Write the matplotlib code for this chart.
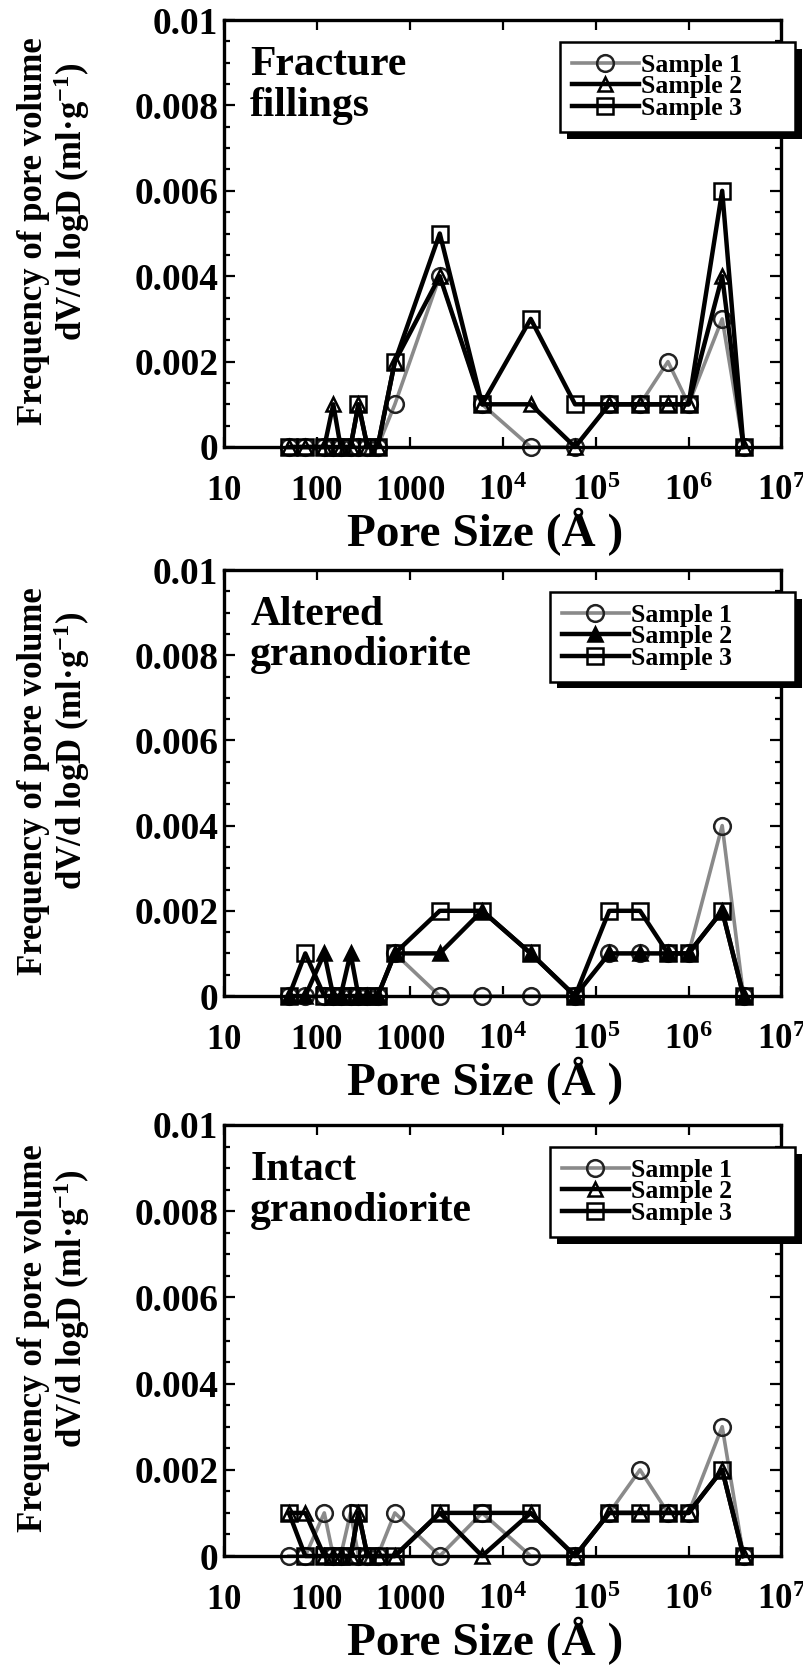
import matplotlib
matplotlib.use("Agg")
import matplotlib.pyplot as plt
from matplotlib import patheffects
from matplotlib.ticker import FixedLocator, FixedFormatter, MultipleLocator, NullLocator
from matplotlib.lines import Line2D

plt.rcParams["font.family"] = ["Liberation Serif", "DejaVu Serif"]
plt.rcParams["font.weight"] = "bold"
plt.rcParams["axes.labelweight"] = "bold"
plt.rcParams["mathtext.fontset"] = "custom"
plt.rcParams["mathtext.rm"] = "Liberation Serif:bold"
plt.rcParams["mathtext.it"] = "Liberation Serif:bold"
plt.rcParams["mathtext.bf"] = "Liberation Serif:bold"
plt.rcParams["mathtext.default"] = "bf"

# DATA (pore size in Angstrom, dV/dlogD in ml/g)
pore_size = [50, 75, 120, 150, 180, 230, 280, 350, 450, 690,
             2100, 6000, 20000, 60000, 140000, 300000, 600000, 1000000, 2300000, 3900000]

fracture_s1 = [0, 0, 0, 0, 0, 0, 0, 0, 0, 0.001,
               0.004, 0.001, 0, 0, 0.001, 0.001, 0.002, 0.001, 0.003, 0]
fracture_s2 = [0, 0, 0, 0.001, 0, 0, 0.001, 0, 0, 0.002,
               0.004, 0.001, 0.001, 0, 0.001, 0.001, 0.001, 0.001, 0.004, 0]
fracture_s3 = [0, 0, 0, 0, 0, 0, 0.001, 0, 0, 0.002,
               0.005, 0.001, 0.003, 0.001, 0.001, 0.001, 0.001, 0.001, 0.006, 0]

altered_s1 = [0, 0, 0, 0, 0, 0, 0, 0, 0, 0.001,
              0, 0, 0, 0, 0.001, 0.001, 0.001, 0.001, 0.004, 0]
altered_s2 = [0, 0, 0.001, 0, 0, 0.001, 0, 0, 0, 0.001,
              0.001, 0.002, 0.001, 0, 0.001, 0.001, 0.001, 0.001, 0.002, 0]
altered_s3 = [0, 0.001, 0, 0, 0, 0, 0, 0, 0, 0.001,
              0.002, 0.002, 0.001, 0, 0.002, 0.002, 0.001, 0.001, 0.002, 0]

intact_s1 = [0, 0, 0.001, 0, 0, 0.001, 0, 0, 0, 0.001,
             0, 0.001, 0, 0, 0.001, 0.002, 0.001, 0.001, 0.003, 0]
intact_s2 = [0.001, 0.001, 0, 0, 0, 0, 0.001, 0, 0, 0,
             0.001, 0, 0.001, 0, 0.001, 0.001, 0.001, 0.001, 0.002, 0]
intact_s3 = [0.001, 0, 0, 0, 0, 0, 0.001, 0, 0, 0,
             0.001, 0.001, 0.001, 0, 0.001, 0.001, 0.001, 0.001, 0.002, 0]

panel_labels = ["Fracture\nfillings", "Altered\ngranodiorite", "Intact\ngranodiorite"]
sample_names = ["Sample 1", "Sample 2", "Sample 3"]
x_ticks = [10, 100, 1000, 1e4, 1e5, 1e6, 1e7]
x_ticklabels = ["$10$", "$100$", "$1000$", "$10^{4}$", "$10^{5}$", "$10^{6}$", "$10^{7}$"]
y_ticks = [0, 0.002, 0.004, 0.006, 0.008, 0.01]
y_ticklabels = ["0", "0.002", "0.004", "0.006", "0.008", "0.01"]

W, H = 804, 1666
fig = plt.figure(figsize=(W / 100, H / 100), dpi=100)

# axes boxes in pixels: (top, bottom), legend left edge in axes fraction
boxes = [(20, 447), (570, 996), (1125, 1556)]
legend_x = [0.603, 0.585, 0.585]
left_px, right_px = 224, 781.5

series = [
    (fracture_s1, fracture_s2, fracture_s3),
    (altered_s1, altered_s2, altered_s3),
    (intact_s1, intact_s2, intact_s3),
]

for i, ((top, bot), (s1, s2, s3)) in enumerate(zip(boxes, series)):
    ax = fig.add_axes([left_px / W, 1 - bot / H, (right_px - left_px) / W, (bot - top) / H])
    tri_face = "k" if i == 1 else "none"
    styles = [
        dict(color="#8a8a8a", lw=2.6, marker="o", ms=12, mfc="none", mec="#222222", mew=1.8),
        dict(color="k", lw=3.2, marker="^", ms=10, mfc=tri_face, mec="k", mew=1.8),
        dict(color="k", lw=3.2, marker="s", ms=11, mfc="none", mec="k", mew=1.8),
    ]
    handles = []
    for ys, st, name in zip((s1, s2, s3), styles, sample_names):
        ax.plot(pore_size, ys, clip_on=False, **st)
        handles.append(Line2D([], [], label=name, **st))

    ax.set_xscale("log")
    ax.set_xlim(10, 1e7)
    ax.set_ylim(0, 0.01)
    ax.xaxis.set_major_locator(FixedLocator(x_ticks))
    ax.xaxis.set_major_formatter(FixedFormatter(x_ticklabels))
    ax.xaxis.set_minor_locator(NullLocator())
    ax.yaxis.set_major_locator(FixedLocator(y_ticks))
    ax.yaxis.set_major_formatter(FixedFormatter(y_ticklabels))
    ax.yaxis.set_minor_locator(MultipleLocator(0.0005))

    ax.tick_params(axis="both", which="both", direction="in", top=True, right=True, width=1.6)
    ax.tick_params(axis="y", which="major", length=8, labelsize=27, pad=4)
    ax.tick_params(axis="y", which="minor", length=4)
    ax.tick_params(axis="x", which="major", length=7, labelsize=25, pad=38)
    for lab in ax.get_xticklabels():
        lab.set_va("baseline")
    for sp in ax.spines.values():
        sp.set_linewidth(2.4)

    ax.set_xlabel("Pore Size (Å )", fontsize=34, va="baseline")
    ax.xaxis.set_label_coords((485 - left_px) / (right_px - left_px), -99 / (bot - top))

    ax.text(0.047, 0.94, panel_labels[i], transform=ax.transAxes, fontsize=30,
            va="top", ha="left", linespacing=1.1)

    leg = ax.legend(handles=handles, loc="upper left",
                    bbox_to_anchor=(legend_x[i], 0.5, 1.025 - legend_x[i], 1 - 22 / (bot - top) - 0.5),
                    mode="expand", borderaxespad=0, fontsize=18.5, handlelength=2.6,
                    handletextpad=0.1, labelspacing=-0.05, borderpad=0.45,
                    fancybox=False, framealpha=1, edgecolor="k", numpoints=1)
    leg.get_frame().set_linewidth(1.8)
    leg.get_frame().set_path_effects([
        patheffects.SimplePatchShadow(offset=(5, -5), shadow_rgbFace="k", alpha=1.0),
        patheffects.Normal(),
    ])

    mid = (top + bot) / 2
    fig.text(34 / W, 1 - (mid - 2) / H, "Frequency of pore volume",
             rotation=90, ha="center", va="center", fontsize=25)
    fig.text(72 / W, 1 - (mid - 32) / H, "dV/d logD (ml·g$^{-1}$)",
             rotation=90, ha="center", va="center", fontsize=25)

fig.savefig("out.png", dpi=100)
